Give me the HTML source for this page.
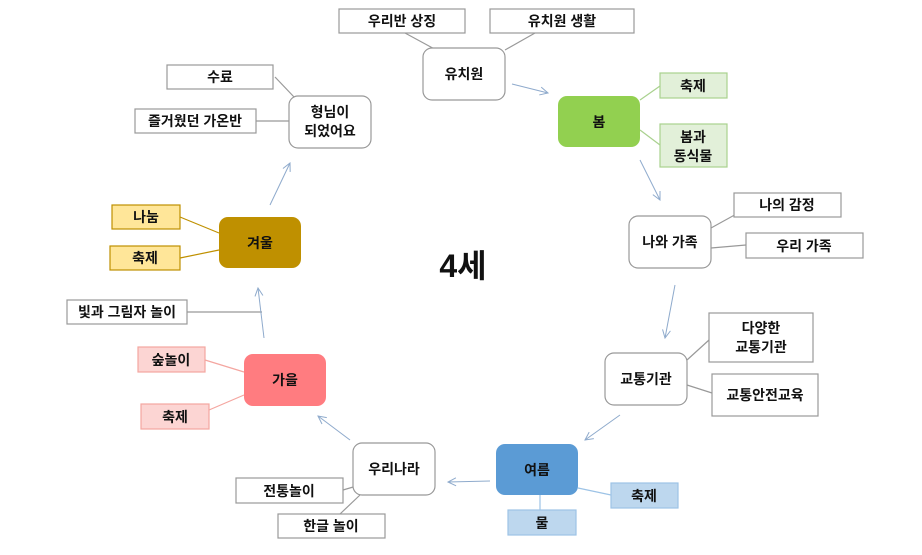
<!DOCTYPE html>
<html><head><meta charset="utf-8"><style>
html,body{margin:0;padding:0;background:#fff;}
svg{display:block;font-family:"Liberation Sans","Noto Sans CJK KR",sans-serif;}
text{font-size:14px;fill:#111;text-anchor:middle;dominant-baseline:central;font-weight:bold;}
</style></head><body>
<svg width="922" height="555" viewBox="0 0 922 555" xmlns="http://www.w3.org/2000/svg">
<defs><marker id="a" markerWidth="10" markerHeight="10" refX="9" refY="5" orient="auto" markerUnits="userSpaceOnUse"><path d="M1,1 L9,5 L1,9" fill="none" stroke="#8eaacc" stroke-width="1"/></marker></defs>
<g stroke="#999" stroke-width="1.2" fill="none">
<line x1="405" y1="33" x2="440" y2="52"/><line x1="535" y1="33" x2="505" y2="50"/>
<line x1="275" y1="77" x2="295" y2="98"/><line x1="256" y1="121" x2="289" y2="121"/>
<line x1="711" y1="228" x2="740" y2="212"/><line x1="711" y1="248" x2="746" y2="245"/>
<line x1="687" y1="360" x2="709" y2="340"/><line x1="687" y1="385" x2="712" y2="393"/>
<line x1="343" y1="490" x2="360" y2="485"/><line x1="360" y1="495" x2="340" y2="514"/>
<line x1="187" y1="312" x2="262" y2="312"/>
</g>
<g stroke-width="1.2" fill="none">
<line x1="640" y1="100" x2="660" y2="86" stroke="#a9d18e"/><line x1="640" y1="130" x2="660" y2="145" stroke="#a9d18e"/>
<line x1="578" y1="488" x2="611" y2="495" stroke="#9dc3e6"/><line x1="540" y1="495" x2="540" y2="510" stroke="#9dc3e6"/>
<line x1="205" y1="360" x2="244" y2="372" stroke="#f4a6a0"/><line x1="209" y1="410" x2="244" y2="395" stroke="#f4a6a0"/>
<line x1="180" y1="217" x2="219" y2="233" stroke="#bf9000"/><line x1="180" y1="258" x2="219" y2="250" stroke="#bf9000"/>
</g>
<g stroke="#8eaacc" stroke-width="1" fill="none" marker-end="url(#a)">
<line x1="512" y1="84" x2="548" y2="93"/><line x1="640" y1="160" x2="660" y2="200"/>
<line x1="675" y1="285" x2="665" y2="338"/><line x1="620" y1="415" x2="585" y2="440"/>
<line x1="490" y1="481" x2="448" y2="482"/><line x1="350" y1="440" x2="318" y2="416"/>
<line x1="264" y1="338" x2="258" y2="288"/><line x1="270" y1="205" x2="290" y2="163"/>
</g>
<g stroke="#999" stroke-width="1.2">
<rect x="423" y="48" width="82" height="52" rx="9" fill="#fff"/>
<rect x="629" y="216" width="82" height="52" rx="9" fill="#fff"/>
<rect x="605" y="353" width="82" height="52" rx="9" fill="#fff"/>
<rect x="353" y="443" width="82" height="52" rx="9" fill="#fff"/>
<rect x="289" y="96" width="82" height="52" rx="9" fill="#fff"/>
</g>
<rect x="558" y="96" width="82" height="51" rx="9" fill="#92d050"/>
<rect x="496" y="444" width="82" height="51" rx="9" fill="#5b9bd5"/>
<rect x="244" y="354" width="82" height="52" rx="9" fill="#ff7c80"/>
<rect x="219" y="217" width="82" height="51" rx="9" fill="#bf9000"/>
<g stroke="#999" stroke-width="1.2" fill="#fff">
<rect x="339" y="9" width="126" height="24"/><rect x="490" y="9" width="144" height="24"/>
<rect x="734" y="193" width="107" height="24"/><rect x="746" y="233" width="117" height="25"/>
<rect x="709" y="313" width="104" height="49"/><rect x="712" y="374" width="106" height="42"/>
<rect x="236" y="478" width="107" height="25"/><rect x="278" y="514" width="107" height="24"/>
<rect x="67" y="300" width="120" height="24"/><rect x="167" y="65" width="106" height="24"/>
<rect x="135" y="109" width="121" height="24"/>
</g>
<g stroke="#a9d18e" stroke-width="1.2" fill="#e2f0d9"><rect x="660" y="73" width="67" height="25"/><rect x="660" y="124" width="67" height="43"/></g>
<g stroke="#9dc3e6" stroke-width="1.2" fill="#bdd7ee"><rect x="611" y="483" width="67" height="25"/><rect x="508" y="510" width="68" height="25"/></g>
<g stroke="#f4a6a0" stroke-width="1.2" fill="#fcd5d3"><rect x="138" y="347" width="67" height="25"/><rect x="141" y="404" width="68" height="25"/></g>
<g stroke="#bf9000" stroke-width="1.2" fill="#ffe699"><rect x="112" y="205" width="68" height="24"/><rect x="110" y="246" width="70" height="24"/></g>
<text x="464" y="74">유치원</text><text x="599" y="122">봄</text>
<text x="670" y="242">나와 가족</text><text x="646" y="379">교통기관</text>
<text x="537" y="470">여름</text><text x="394" y="469">우리나라</text>
<text x="285" y="380">가을</text><text x="260" y="243">겨울</text>
<text x="330" y="112">형님이</text><text x="330" y="131">되었어요</text>
<text x="402" y="21">우리반 상징</text><text x="562" y="21">유치원 생활</text>
<text x="693" y="86">축제</text><text x="693" y="137">봄과</text><text x="693" y="156">동식물</text>
<text x="787" y="205">나의 감정</text><text x="804" y="246">우리 가족</text>
<text x="761" y="328">다양한</text><text x="761" y="347">교통기관</text>
<text x="765" y="395">교통안전교육</text>
<text x="644" y="496">축제</text><text x="542" y="523">물</text>
<text x="289" y="491">전통놀이</text><text x="331" y="526">한글 놀이</text>
<text x="171" y="360">숲놀이</text><text x="175" y="417">축제</text>
<text x="127" y="312">빛과 그림자 놀이</text>
<text x="146" y="217">나눔</text><text x="145" y="258">축제</text>
<text x="220" y="77">수료</text><text x="195" y="121">즐거웠던 가온반</text>
<text x="463" y="266" style="font-size:32px">4세</text>
</svg>
</body></html>
